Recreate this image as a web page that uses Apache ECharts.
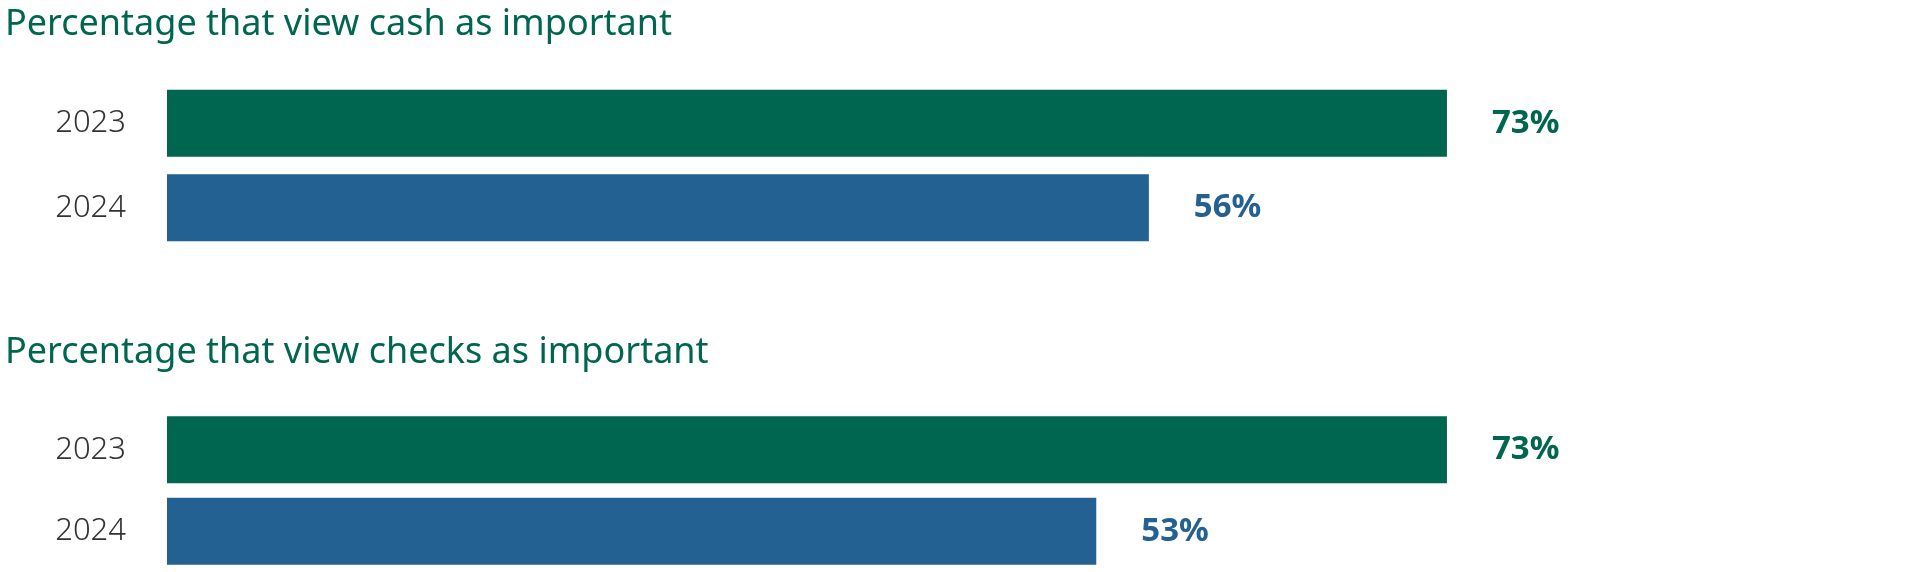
<!DOCTYPE html>
<html><head><meta charset="utf-8">
<script src="https://cdn.jsdelivr.net/npm/echarts@6/dist/echarts.min.js"></script>
<style>html,body{margin:0;padding:0;background:#fff}#c{width:1907px;height:572px}</style>
</head><body><div id="c"></div>
<script>
const years = ['2023', '2024'];
const cashValues = [73, 56];
const checksValues = [73, 53];
const titles = ['Percentage that view cash as important', 'Percentage that view checks as important'];
const colors = ['#00664F', '#236192'];

const chart = echarts.init(document.getElementById('c'));
const font = '"Noto Sans", sans-serif';
const tops = [81, 409];
const mk = v => v.map((x, i) => ({ value: x, itemStyle: { color: colors[i] }, label: { color: colors[i] } }));
chart.setOption({
  animation: false,
  title: titles.map((t, i) => ({ text: t, left: 0, top: i === 0 ? 2 : 330, textStyle: { fontFamily: font, fontSize: 36, fontWeight: 'normal', color: '#00664F' } })),
  grid: tops.map(t => ({ left: 167, width: 1578, top: t, height: 169 })),
  xAxis: [0, 1].map(i => ({ gridIndex: i, type: 'value', min: 0, max: 90, show: false })),
  yAxis: [0, 1].map(i => ({
    gridIndex: i, type: 'category', data: years, inverse: true,
    axisLine: { show: false }, axisTick: { show: false },
    axisLabel: { margin: 41, fontFamily: font, fontSize: 31, fontWeight: 300, color: '#333' }
  })),
  series: [cashValues, checksValues].map((v, i) => ({
    type: 'bar', xAxisIndex: i, yAxisIndex: i, barWidth: 67, data: mk(v),
    label: { show: true, position: 'right', distance: 45, formatter: '{c}%', fontFamily: font, fontSize: 33, fontWeight: 'bold' }
  }))
});
</script></body></html>
